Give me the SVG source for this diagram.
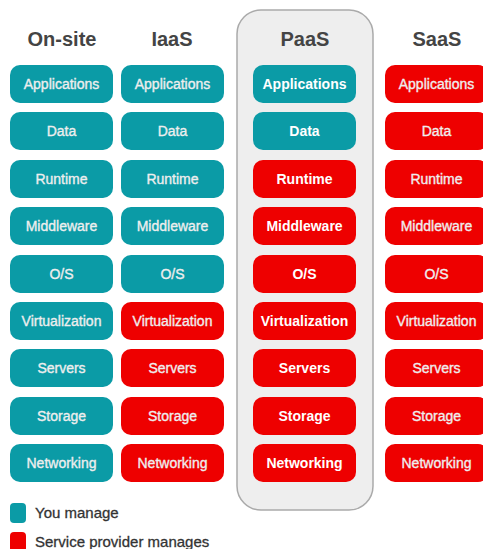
<svg xmlns="http://www.w3.org/2000/svg" width="483" height="549" viewBox="0 0 483 549">
<style>
.h{font-family:"Liberation Sans",Arial,sans-serif;font-size:20px;font-weight:bold;fill:#444;text-anchor:middle}
.t{font-family:"Liberation Sans",Arial,sans-serif;font-size:14px;fill:#eeeeee;stroke:#eeeeee;stroke-width:0.35px;text-anchor:middle}
.p .t{fill:#fff;stroke:none;font-weight:bold}
.you{fill:#0b9ba6}
.sp{fill:#ee0000}
.lg{font-family:"Liberation Sans",Arial,sans-serif;font-size:15px;fill:#333;stroke:#333;stroke-width:0.3px}
</style>
<rect width="483" height="549" fill="#fff"/>
<rect id="paas-panel" x="237" y="10" width="136" height="500" rx="24" fill="#eeeeee" stroke="#aaaaaa" stroke-width="1.5"/>
<text class="h" x="62" y="46">On-site</text>
<text class="h" x="172" y="46">IaaS</text>
<text class="h" x="305" y="46">PaaS</text>
<text class="h" x="437" y="46">SaaS</text>
<defs>
<rect id="b" width="103" height="38" rx="10"/>
</defs>
<g id="onsite">
<g id="on-app"><use href="#b" x="10" y="65" class="you"/><text class="t" x="61.5" y="89">Applications</text></g>
<g id="on-data"><use href="#b" x="10" y="112" class="you"/><text class="t" x="61.5" y="136">Data</text></g>
<g id="on-run"><use href="#b" x="10" y="160" class="you"/><text class="t" x="61.5" y="184">Runtime</text></g>
<g id="on-mid"><use href="#b" x="10" y="207" class="you"/><text class="t" x="61.5" y="231">Middleware</text></g>
<g id="on-os"><use href="#b" x="10" y="255" class="you"/><text class="t" x="61.5" y="279">O/S</text></g>
<g id="on-virt"><use href="#b" x="10" y="302" class="you"/><text class="t" x="61.5" y="326">Virtualization</text></g>
<g id="on-srv"><use href="#b" x="10" y="349" class="you"/><text class="t" x="61.5" y="373">Servers</text></g>
<g id="on-sto"><use href="#b" x="10" y="397" class="you"/><text class="t" x="61.5" y="421">Storage</text></g>
<g id="on-net"><use href="#b" x="10" y="444" class="you"/><text class="t" x="61.5" y="468">Networking</text></g>
</g>
<g id="iaas">
<g id="ia-app"><use href="#b" x="121" y="65" class="you"/><text class="t" x="172.5" y="89">Applications</text></g>
<g id="ia-data"><use href="#b" x="121" y="112" class="you"/><text class="t" x="172.5" y="136">Data</text></g>
<g id="ia-run"><use href="#b" x="121" y="160" class="you"/><text class="t" x="172.5" y="184">Runtime</text></g>
<g id="ia-mid"><use href="#b" x="121" y="207" class="you"/><text class="t" x="172.5" y="231">Middleware</text></g>
<g id="ia-os"><use href="#b" x="121" y="255" class="you"/><text class="t" x="172.5" y="279">O/S</text></g>
<g id="ia-virt"><use href="#b" x="121" y="302" class="sp"/><text class="t" x="172.5" y="326">Virtualization</text></g>
<g id="ia-srv"><use href="#b" x="121" y="349" class="sp"/><text class="t" x="172.5" y="373">Servers</text></g>
<g id="ia-sto"><use href="#b" x="121" y="397" class="sp"/><text class="t" x="172.5" y="421">Storage</text></g>
<g id="ia-net"><use href="#b" x="121" y="444" class="sp"/><text class="t" x="172.5" y="468">Networking</text></g>
</g>
<g id="paas" class="p">
<g id="pa-app"><use href="#b" x="253" y="65" class="you"/><text class="t" x="304.5" y="89">Applications</text></g>
<g id="pa-data"><use href="#b" x="253" y="112" class="you"/><text class="t" x="304.5" y="136">Data</text></g>
<g id="pa-run"><use href="#b" x="253" y="160" class="sp"/><text class="t" x="304.5" y="184">Runtime</text></g>
<g id="pa-mid"><use href="#b" x="253" y="207" class="sp"/><text class="t" x="304.5" y="231">Middleware</text></g>
<g id="pa-os"><use href="#b" x="253" y="255" class="sp"/><text class="t" x="304.5" y="279">O/S</text></g>
<g id="pa-virt"><use href="#b" x="253" y="302" class="sp"/><text class="t" x="304.5" y="326">Virtualization</text></g>
<g id="pa-srv"><use href="#b" x="253" y="349" class="sp"/><text class="t" x="304.5" y="373">Servers</text></g>
<g id="pa-sto"><use href="#b" x="253" y="397" class="sp"/><text class="t" x="304.5" y="421">Storage</text></g>
<g id="pa-net"><use href="#b" x="253" y="444" class="sp"/><text class="t" x="304.5" y="468">Networking</text></g>
</g>
<g id="saas">
<g id="sa-app"><use href="#b" x="385" y="65" class="sp"/><text class="t" x="436.5" y="89">Applications</text></g>
<g id="sa-data"><use href="#b" x="385" y="112" class="sp"/><text class="t" x="436.5" y="136">Data</text></g>
<g id="sa-run"><use href="#b" x="385" y="160" class="sp"/><text class="t" x="436.5" y="184">Runtime</text></g>
<g id="sa-mid"><use href="#b" x="385" y="207" class="sp"/><text class="t" x="436.5" y="231">Middleware</text></g>
<g id="sa-os"><use href="#b" x="385" y="255" class="sp"/><text class="t" x="436.5" y="279">O/S</text></g>
<g id="sa-virt"><use href="#b" x="385" y="302" class="sp"/><text class="t" x="436.5" y="326">Virtualization</text></g>
<g id="sa-srv"><use href="#b" x="385" y="349" class="sp"/><text class="t" x="436.5" y="373">Servers</text></g>
<g id="sa-sto"><use href="#b" x="385" y="397" class="sp"/><text class="t" x="436.5" y="421">Storage</text></g>
<g id="sa-net"><use href="#b" x="385" y="444" class="sp"/><text class="t" x="436.5" y="468">Networking</text></g>
</g>
<g id="legend">
<rect x="10" y="503" width="16" height="20" rx="4" class="you"/>
<text class="lg" x="35" y="518">You manage</text>
<rect x="10" y="532" width="16" height="20" rx="4" class="sp"/>
<text class="lg" x="35" y="547">Service provider manages</text>
</g>
<g id="connectors"/>
</svg>
